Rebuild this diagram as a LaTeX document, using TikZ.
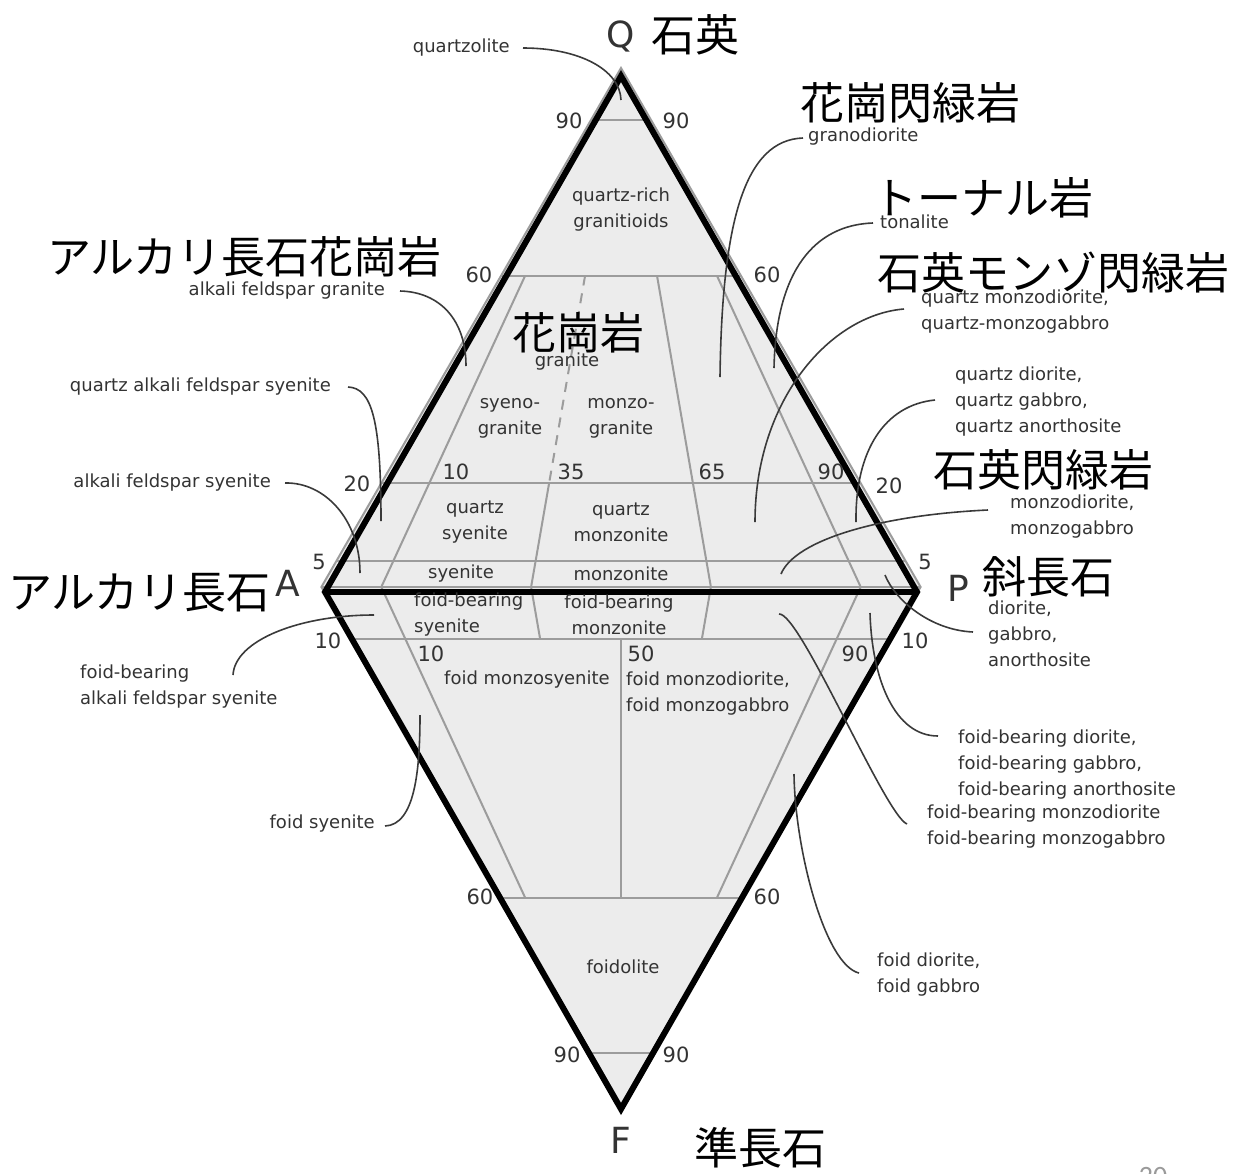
\documentclass[tikz,border=0pt]{standalone}
\usepackage{fontspec}
\setmainfont{DejaVu Sans}
\newfontfamily\cjk{Noto Sans CJK JP}
\newfontfamily\slidefont{Carlito}
\usetikzlibrary{calc}
\definecolor{labgray}{HTML}{333333}
\definecolor{leadgray}{HTML}{3A3A3A}
\definecolor{linegray}{HTML}{9C9C9C}
\definecolor{fillgray}{HTML}{ECECEC}
\definecolor{pagegray}{HTML}{9A9A9A}
\begin{document}
\begin{tikzpicture}[x=1bp,y=-1bp,
  lab/.style={font=\fontsize{18bp}{26bp}\selectfont, text=labgray, inner sep=0pt},
  num/.style={font=\fontsize{21bp}{24bp}\selectfont, text=labgray, inner sep=0pt},
  jp/.style={font=\cjk\fontsize{44bp}{50bp}\selectfont, text=black, inner sep=0pt},
  vtx/.style={font=\fontsize{36bp}{40bp}\selectfont, text=labgray, inner sep=0pt},
  gline/.style={draw=linegray, line width=2bp},
  gdash/.style={draw=linegray, line width=2bp, dash pattern=on 10bp off 8bp},
  leader/.style={draw=leadgray, line width=1.6bp},
  outline/.style={draw=black, line width=6bp, line join=miter}
]
\useasboundingbox (0,0) rectangle (1243,1174);

% ---- original diagram (gray) ----
\fill[fillgray] (621,68) -- (321.4,587) -- (621,1105) -- (920.6,587) -- cycle;
\draw[gline] (621,68) -- (321.4,587) -- (621,1105) -- (920.6,587) -- cycle;
\draw[gline] (321.4,587) -- (920.6,587);
% upper horizontals
\draw[gline] (591.0,119.9) -- (651.0,119.9);
\draw[gline] (501.2,275.6) -- (740.8,275.6);
\draw[gline] (381.3,483.2) -- (860.7,483.2);
\draw[gline] (336.4,561.1) -- (905.6,561.1);
% upper radials
\draw[gline] (525.2,275.6) -- (381.3,587);
\draw[gdash] (585.1,275.6) -- (549.1,483.2);
\draw[gline] (549.1,483.2) -- (531.1,587);
\draw[gline] (657.0,275.6) -- (710.9,587);
\draw[gline] (716.9,275.6) -- (860.7,587);
% lower horizontals
\draw[gline] (351.4,638.8) -- (890.6,638.8);
\draw[gline] (501.2,897.8) -- (740.8,897.8);
\draw[gline] (591.0,1053.2) -- (651.0,1053.2);
% lower radials
\draw[gline] (381.3,587) -- (525.2,897.8);
\draw[gline] (531.1,587) -- (540.1,638.8);
\draw[gline] (710.9,587) -- (701.9,638.8);
\draw[gline] (860.7,587) -- (716.9,897.8);
\draw[gline] (621,638.8) -- (621,897.8);

% ---- black overlay ----
\draw[outline] (621,76) -- (325,592) -- (621,1109) -- (917,592) -- cycle;
\draw[outline] (325,592) -- (917,592);

% ---- vertex letters ----
\node[vtx] (vQ) at (621,36) {Q};
\node[vtx] (vA) at (288,583) {A};
\node[vtx] (vP) at (958,588) {P};
\node[vtx] (vF) at (621,1140) {F};

% ---- Japanese labels ----
\node[jp, anchor=west] (jQ) at (651,35) {石英};
\node[jp, anchor=west] (jGd) at (800,103) {花崗閃緑岩};
\node[jp, anchor=west] (jTo) at (873,198) {トーナル岩};
\node[jp, anchor=west] (jAfg) at (47,257) {アルカリ長石花崗岩};
\node[jp, anchor=west] (jQmd) at (877,273) {石英モンゾ閃緑岩};
\node[jp, anchor=west] (jGr) at (512,333) {花崗岩};
\node[jp, anchor=west] (jQd) at (933,470) {石英閃緑岩};
\node[jp, anchor=west] (jA) at (8,593) {アルカリ長石};
\node[jp, anchor=west] (jP) at (982,577) {斜長石};
\node[jp, anchor=west] (jF) at (694,1148) {準長石};

% ---- numbers ----
\node[num] (n90l) at (569,121) {90};
\node[num] (n90r) at (676,121) {90};
\node[num] (n60l) at (479,275) {60};
\node[num] (n60r) at (767,275) {60};
\node[num] (n20l) at (357,484) {20};
\node[num] (n20r) at (889,486) {20};
\node[num] (n5l) at (319,562) {5};
\node[num] (n5r) at (925,562) {5};
\node[num] (p10) at (456,472) {10};
\node[num] (p35) at (571,472) {35};
\node[num] (p65) at (712,472) {65};
\node[num] (p90) at (831,472) {90};
\node[num] (f10l) at (328,641) {10};
\node[num] (f10r) at (915,641) {10};
\node[num] (q10) at (431,654) {10};
\node[num] (q50) at (641,654) {50};
\node[num] (q90) at (855,654) {90};
\node[num] (f60l) at (480,897) {60};
\node[num] (f60r) at (767,897) {60};
\node[num] (f90l) at (567,1055) {90};
\node[num] (f90r) at (676,1055) {90};

% ---- field labels ----
\node[lab, align=center] (qrg) at (621,210) {quartz-rich\\granitioids};
\node[lab] (gra) at (567,362) {granite};
\node[lab, align=center] (syg) at (510,418) {syeno-\\granite};
\node[lab, align=center] (mzg) at (621,418) {monzo-\\granite};
\node[lab, align=center] (qsy) at (475,522) {quartz\\syenite};
\node[lab, align=center] (qmz) at (621,522) {quartz\\monzonite};
\node[lab] (sye) at (461,574) {syenite};
\node[lab] (mzn) at (621,574) {monzonite};
\node[lab, align=left, anchor=west] (fbs) at (414,615) {foid-bearing\\syenite};
\node[lab, align=center] (fbm) at (619,615) {foid-bearing\\monzonite};
\node[lab] (fms) at (527,680) {foid monzosyenite};
\node[lab, align=left, anchor=west] (fmd) at (626,694) {foid monzodiorite,\\foid monzogabbro};
\node[lab] (fdl) at (623,967) {foidolite};

% ---- outside labels ----
\node[lab, anchor=east] (qzl) at (510,48) {quartzolite};
\node[lab, anchor=east] (afg) at (385,291) {alkali feldspar granite};
\node[lab, anchor=east] (qafs) at (331,387) {quartz alkali feldspar syenite};
\node[lab, anchor=east] (afs) at (271,483) {alkali feldspar syenite};
\node[lab, align=left, anchor=west] (fbafs) at (80,687) {foid-bearing\\alkali feldspar syenite};
\node[lab, anchor=east] (fsy) at (375,824) {foid syenite};
\node[lab, anchor=west] (gdi) at (808,137) {granodiorite};
\node[lab, anchor=west] (ton) at (880,222) {tonalite};
\node[lab, align=left, anchor=west] (qmd) at (921,312) {quartz monzodiorite,\\quartz-monzogabbro};
\node[lab, align=left, anchor=west] (qdi) at (955,402) {quartz diorite,\\quartz gabbro,\\quartz anorthosite};
\node[lab, align=left, anchor=west] (mzd) at (1010,517) {monzodiorite,\\monzogabbro};
\node[lab, align=left, anchor=west] (dio) at (988,634) {diorite,\\gabbro,\\anorthosite};
\node[lab, align=left, anchor=west] (fbd) at (958,765) {foid-bearing diorite,\\foid-bearing gabbro,\\foid-bearing anorthosite};
\node[lab, align=left, anchor=west] (fbmd) at (927,827) {foid-bearing monzodiorite\\foid-bearing monzogabbro};
\node[lab, align=left, anchor=west] (fdi) at (877,975) {foid diorite,\\foid gabbro};

% ---- leader end points ----
\coordinate (e1) at (621,100);
\coordinate (e2) at (466,366);
\coordinate (e3) at (381,521);
\coordinate (e4) at (360,573);
\coordinate (e5) at (374,615);
\coordinate (e6) at (420,715);
\coordinate (e7) at (720,377);
\coordinate (e8) at (774,368);
\coordinate (e9) at (755,522);
\coordinate (e10) at (856,522);
\coordinate (e11) at (781,574);
\coordinate (e12) at (885,575);
\coordinate (e13) at (870,613);
\coordinate (e14) at (779,614);
\coordinate (e15) at (794,774);

% ---- leaders ----
\draw[leader] ($(qzl.east)+(13,0)$) .. controls (580,48) and (620,70) .. (e1);
\draw[leader] ($(afg.east)+(15,0)$) .. controls (440,292) and (466,320) .. (e2);
\draw[leader] ($(qafs.east)+(17,0)$) .. controls (372,388) and (381,420) .. (e3);
\draw[leader] ($(afs.east)+(14,0)$) .. controls (325,482) and (360,520) .. (e4);
\draw[leader] ($(fbafs.west)+(153,-12)$) .. controls (235,640) and (300,615) .. (e5);
\draw[leader] ($(fsy.east)+(10,2)$) .. controls (415,825) and (420,770) .. (e6);
\draw[leader] ($(gdi.west)+(-5,1)$) .. controls (745,140) and (722,220) .. (e7);
\draw[leader] ($(ton.west)+(-7,1)$) .. controls (815,225) and (776,270) .. (e8);
\draw[leader] ($(qmd.west)+(-17,-3)$) .. controls (830,315) and (755,400) .. (e9);
\draw[leader] ($(qdi.west)+(-20,-2)$) .. controls (885,405) and (855,450) .. (e10);
\draw[leader] ($(mzd.west)+(-22,-7)$) .. controls (880,515) and (795,540) .. (e11);
\draw[leader] ($(dio.west)+(-15,-2)$) .. controls (930,630) and (895,600) .. (e12);
\draw[leader] ($(fbd.west)+(-20,-29)$) .. controls (895,736) and (872,680) .. (e13);
\draw[leader] ($(fbmd.west)+(-20,-3)$) .. controls (885,815) and (800,612) .. (e14);
\draw[leader] ($(fdi.west)+(-18,-2)$) .. controls (825,965) and (795,850) .. (e15);

% ---- page number ----
\node[font=\slidefont\fontsize{28bp}{30bp}\selectfont, text=pagegray, inner sep=0pt] (pg) at (1153,1176) {20};
\end{tikzpicture}
\end{document}
